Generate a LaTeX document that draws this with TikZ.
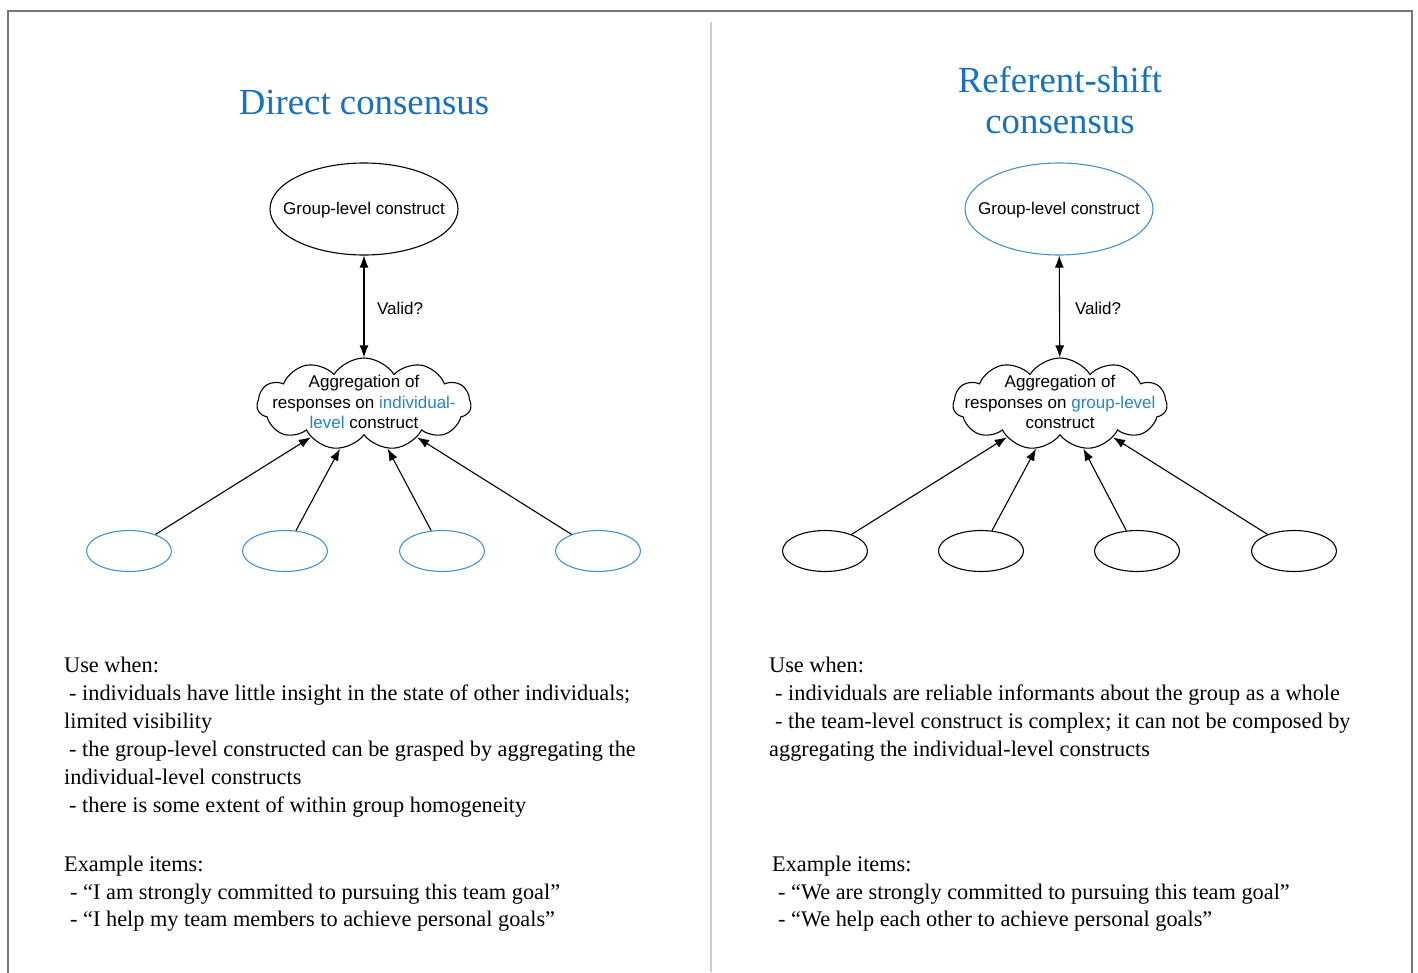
\documentclass[tikz,border=0pt]{standalone}
\usepackage{fontspec}
\setmainfont{Liberation Serif}
\newfontfamily\labelfont{Liberation Sans}
\usetikzlibrary{shapes.geometric,shapes.symbols,arrows.meta}
\definecolor{titleblue}{RGB}{24,112,192}
\definecolor{ellblue}{RGB}{70,145,205}
\definecolor{txtblue}{RGB}{40,130,200}
\definecolor{framegray}{RGB}{120,120,120}
\definecolor{divgray}{RGB}{205,205,205}
\tikzset{
  bigell/.style={ellipse,draw,line width=1.1pt,minimum width=188pt,minimum height=92pt,inner sep=0pt},
  smallell/.style={ellipse,draw,line width=1.1pt,minimum width=85pt,minimum height=41pt,inner sep=0pt},
  cloudbox/.style={cloud,draw,line width=1.1pt,cloud puffs=11,cloud puff arc=115,aspect=2.4,minimum width=214pt,minimum height=92pt,inner sep=0pt},
  sanslbl/.style={font=\labelfont\fontsize{17}{20.5}\selectfont,align=center,inner sep=0pt},
  title/.style={font=\fontsize{36.8}{41}\selectfont,text=titleblue,align=center,inner sep=0pt,anchor=base},
  body/.style={font=\fontsize{22.3}{28}\selectfont,inner sep=0pt,anchor=base west},
  arr/.style={line width=1.1pt,-{Latex[length=12pt,width=9pt]}},
  darr/.style={line width=1.1pt,{Latex[length=12pt,width=9pt]}-{Latex[length=12pt,width=9pt]}}
}
\begin{document}
\begin{tikzpicture}[x=1pt,y=-1pt]
\useasboundingbox (0,0) rectangle (1418,972);
% frame
\draw[framegray,line width=2pt] (8,995) -- (8,11) -- (1412,11) -- (1412,995);
\draw[divgray,line width=2pt] (711,22) -- (711,972);

% ---------- left ----------
\node[title] (tl) at (364,114) {Direct consensus};
\node[bigell] (gl) at (364,209) {};
\node[sanslbl] (gltxt) at (364,210) {Group-level construct};
\node[cloudbox] (cl) at (364,404) {};
\node[sanslbl] (cltxt) at (364,402) {Aggregation of\\responses on \textcolor{txtblue}{individual-}\\\textcolor{txtblue}{level} construct};
\draw[darr] (cl) -- (gl);
\node[sanslbl,anchor=base] (vl) at (400,314) {Valid?};
\foreach \i/\x in {1/129,2/285,3/442,4/598}{
  \node[smallell,draw=ellblue] (el\i) at (\x,551) {};
  \draw[arr] (el\i) -- (cl);
}
\node[body] (ul1) at (64,672) {Use when:};
\node[body] (ul2) at (69,700) {- individuals have little insight in the state of other individuals;};
\node[body] (ul3) at (64,728) {limited visibility};
\node[body] (ul4) at (69,756) {- the group-level constructed can be grasped by aggregating the};
\node[body] (ul5) at (64,784) {individual-level constructs};
\node[body] (ul6) at (69,812) {- there is some extent of within group homogeneity};
\node[body] (xl1) at (64,871) {Example items:};
\node[body] (xl2) at (70,899) {- ``I am strongly committed to pursuing this team goal''};
\node[body] (xl3) at (70,926) {- ``I help my team members to achieve personal goals''};

% ---------- right ----------
\node[title] (tr) at (1060,133) {Referent-shift\\consensus};
\node[bigell,draw=ellblue] (gr) at (1059,209) {};
\node[sanslbl] (grtxt) at (1059,210) {Group-level construct};
\node[cloudbox] (cr) at (1060,404) {};
\node[sanslbl] (crtxt) at (1060,402) {Aggregation of\\responses on \textcolor{txtblue}{group-level}\\construct};
\draw[darr] (cr) -- (gr);
\node[sanslbl,anchor=base] (vr) at (1098,314) {Valid?};
\foreach \i/\x in {1/825,2/981,3/1137,4/1294}{
  \node[smallell] (er\i) at (\x,551) {};
  \draw[arr] (er\i) -- (cr);
}
\node[body] (ur1) at (769,672) {Use when:};
\node[body] (ur2) at (775,700) {- individuals are reliable informants about the group as a whole};
\node[body] (ur3) at (775,728) {- the team-level construct is complex; it can not be composed by};
\node[body] (ur4) at (769,756) {aggregating the individual-level constructs};
\node[body] (xr1) at (772,871) {Example items:};
\node[body] (xr2) at (778,899) {- ``We are strongly committed to pursuing this team goal''};
\node[body] (xr3) at (778,926) {- ``We help each other to achieve personal goals''};
\end{tikzpicture}
\end{document}
